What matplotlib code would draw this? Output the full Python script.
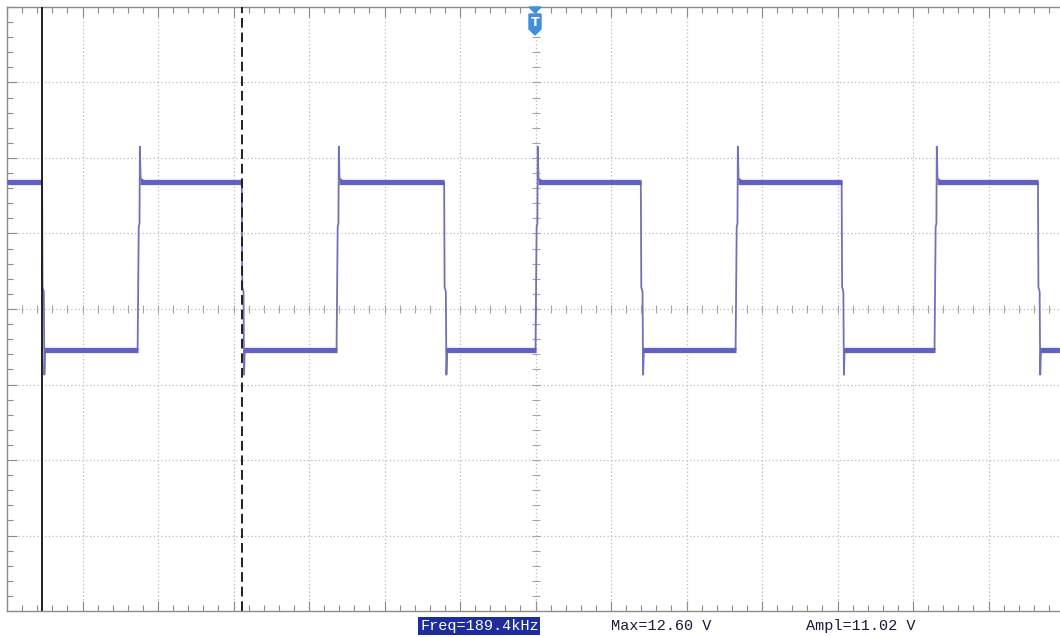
import numpy as np
import matplotlib
matplotlib.use('Agg')
import matplotlib.pyplot as plt
from matplotlib.patches import Polygon

# scope settings: 2 us/div, 5 V/div, trigger at t=0
t_div = 2.0
v_div = 5.0
v_center = 1.85          # volts at the screen centre line (ground sits a bit below centre)

# edge times (us) and levels (V)
rise_t = [-10.54, -5.27, 0.0, 5.30, 10.57]
fall_t = [-13.07, -7.78, -2.42, 2.79, 8.11, 13.31]
v_high = 10.25
v_low = -0.86
v_peak = 12.60   # overshoot on rising edge (Max)
v_dip = -2.50    # undershoot on falling edge
cursor_solid = -13.07
cursor_dashed = -7.78

W, H, DPI = 1060, 637, 100
fig = plt.figure(figsize=(W / DPI, H / DPI), dpi=DPI)
# screen area in pixels: left 7, top 7, bottom 611, right runs off the picture
ax = fig.add_axes([7 / W, (H - 611) / H, (W - 7) / W, (611 - 7) / H])

x_right = (1060 - 535.5) / 75.5 * t_div
ax.set_xlim(-7 * t_div, x_right)
ax.set_ylim(v_center - 4 * v_div, v_center + 4 * v_div)

# build the trace from the edges
t_start, t_end = -7 * t_div, x_right
edges = sorted([(t, 'r') for t in rise_t] + [(t, 'f') for t in fall_t])
xs, ys = [t_start], [v_high]
for t, kind in edges:
    if kind == 'f':
        xs += [t, t + 0.012, t + 0.045, t + 0.06, t + 0.08]
        ys += [v_high, 3.3, 3.0, v_dip, v_low]
    else:
        xs += [t, t + 0.03, t + 0.05, t + 0.06, t + 0.08, t + 0.2]
        ys += [v_low, 7.3, 7.5, v_peak, 10.5, v_high]
xs.append(t_end)
ys.append(ys[-1])

trace_col = '#6060c6'
ax.plot(xs, ys, color='#7272b6', lw=1.3, zorder=3)

# thick (noisy) flat parts of the trace
bounds = [t_start] + [e[0] for e in edges] + [t_end]
level = v_high
for i in range(len(bounds) - 1):
    a, b = bounds[i], bounds[i + 1]
    a_ = a + (0.06 if i > 0 else 0)
    ax.plot([a_, b], [level, level], color=trace_col, lw=3.8, solid_capstyle='butt', zorder=3)
    if i < len(edges):
        level = v_low if edges[i][1] == 'f' else v_high

# grid
grid_kw = dict(color='#bcbcbc', lw=0.9, ls=(0, (1, 2)), zorder=1)
for k in range(1, 14):
    ax.axvline(-7 * t_div + k * t_div, **grid_kw)
for k in range(1, 8):
    ax.axhline(v_center - 4 * v_div + k * v_div, **grid_kw)

# small ticks on the centre cross
minor_t = np.arange(-7 * t_div, x_right, t_div / 5)
minor_v = np.arange(v_center - 4 * v_div, v_center + 4 * v_div + 0.01, v_div / 5)
ax.plot(minor_t, np.full_like(minor_t, v_center), ls='none', marker='|', ms=6,
        mew=0.8, color='#a4a4a4', zorder=1)
ax.plot(np.zeros_like(minor_v), minor_v, ls='none', marker='_', ms=6,
        mew=0.8, color='#a4a4a4', zorder=1)

# frame ticks
ax.set_xticks(np.arange(-7 * t_div, x_right, t_div))
ax.set_xticks(minor_t, minor=True)
ax.set_yticks(np.arange(v_center - 4 * v_div, v_center + 4 * v_div + 0.01, v_div))
ax.set_yticks(minor_v, minor=True)
ax.tick_params(which='both', direction='in', top=True, bottom=True, left=True, right=False,
               labelbottom=False, labelleft=False, color='#8c8c8c', width=0.8)
ax.tick_params(which='major', length=7)
ax.tick_params(which='minor', length=4)
for side in ['top', 'bottom', 'left']:
    ax.spines[side].set_color('#8c8c8c')
    ax.spines[side].set_linewidth(1.0)
ax.spines['right'].set_visible(False)

# cursors
ax.axvline(cursor_solid, color='#202020', lw=1.4, zorder=4)
ax.axvline(cursor_dashed, color='#202020', lw=1.4, ls=(0, (5, 2.5)), zorder=4)

# trigger marker at top centre
def px(x, y):
    return (x / W, (H - y) / H)

fig.patches.append(Polygon([px(529, 7), px(541, 7), px(535, 13)], closed=True,
                           transform=fig.transFigure, color='#3f8fdc', zorder=5))
fig.patches.append(Polygon([px(529, 14), px(541, 14), px(541, 29), px(535, 35), px(529, 29)],
                           closed=True, transform=fig.transFigure, color='#3f8fdc', zorder=5))
fig.text(535.5 / W, (H - 22) / H, 'T', color='white', fontsize=9, fontweight='bold',
         ha='center', va='center', family='DejaVu Sans', zorder=6)

# measurements
mono = 'Liberation Mono'
ty = (H - 626) / H
fig.text(420 / W, ty, 'Freq=189.4kHz', color='white', fontsize=11, family=mono, va='center',
         bbox=dict(boxstyle='square,pad=0.12', fc='#1e2c9c', ec='none'))
fig.text(611 / W, ty, 'Max=12.60 V', color='#1a1a3a', fontsize=11, family=mono, va='center')
fig.text(806 / W, ty, 'Ampl=11.02 V', color='#1a1a3a', fontsize=11, family=mono, va='center')

fig.savefig('out.png', dpi=DPI, facecolor='white')
